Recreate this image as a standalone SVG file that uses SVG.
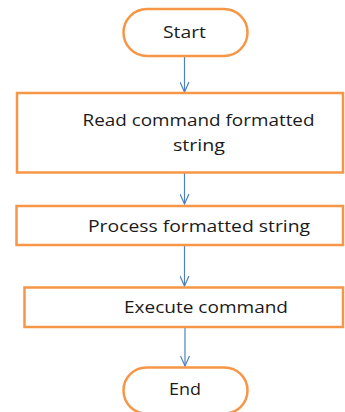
<svg xmlns="http://www.w3.org/2000/svg" width="345" height="412" viewBox="0 0 345 412">
  <style>
    .shape { fill: #ffffff; stroke: #f79646; stroke-width: 2.5; }
    .label { font-family: "Open Sans", "Liberation Sans", sans-serif; font-size: 17px; fill: #1a1a1a; text-anchor: middle; dominant-baseline: central; }
    .edge { stroke: #4f81bd; stroke-width: 1.2; fill: none; }
  </style>
  <defs>
    <marker id="chevron" viewBox="0 0 12 10" refX="11" refY="5" markerWidth="12" markerHeight="10" markerUnits="userSpaceOnUse" orient="auto">
      <path d="M1,0.5 L11,5 L1,9.5" fill="none" stroke="#4f81bd" stroke-width="1.2"/>
    </marker>
  </defs>

  <rect width="345" height="412" fill="#ffffff"/>

  <g id="connectors">
    <line class="edge" x1="184.5" y1="57" x2="184.5" y2="92" marker-end="url(#chevron)"/>
    <line class="edge" x1="184.5" y1="173" x2="184.5" y2="204" marker-end="url(#chevron)"/>
    <line class="edge" x1="184.5" y1="245" x2="184.5" y2="286" marker-end="url(#chevron)"/>
    <line class="edge" x1="185" y1="327" x2="185" y2="366" marker-end="url(#chevron)"/>
  </g>

  <g id="start">
    <rect class="shape" x="123.5" y="9" width="124" height="47" rx="23.5"/>
    <text class="label" x="184.5" y="31" textLength="43" lengthAdjust="spacingAndGlyphs">Start</text>
  </g>

  <g id="read">
    <rect class="shape" x="17" y="93" width="326" height="79.5"/>
    <text class="label" x="198.5" y="119" textLength="232" lengthAdjust="spacingAndGlyphs">Read command formatted</text>
    <text class="label" x="199" y="144" textLength="52" lengthAdjust="spacingAndGlyphs">string</text>
  </g>

  <g id="process">
    <rect class="shape" x="16.5" y="206" width="326.5" height="39"/>
    <text class="label" x="199" y="225" textLength="222" lengthAdjust="spacingAndGlyphs">Process formatted string</text>
  </g>

  <g id="execute">
    <rect class="shape" x="24.5" y="287.5" width="318.5" height="39.5"/>
    <text class="label" x="206" y="306" textLength="164" lengthAdjust="spacingAndGlyphs">Execute command</text>
  </g>

  <g id="end">
    <rect class="shape" x="123.5" y="367.5" width="124" height="46" rx="23"/>
    <text class="label" x="185" y="388" textLength="32" lengthAdjust="spacingAndGlyphs">End</text>
  </g>
</svg>
